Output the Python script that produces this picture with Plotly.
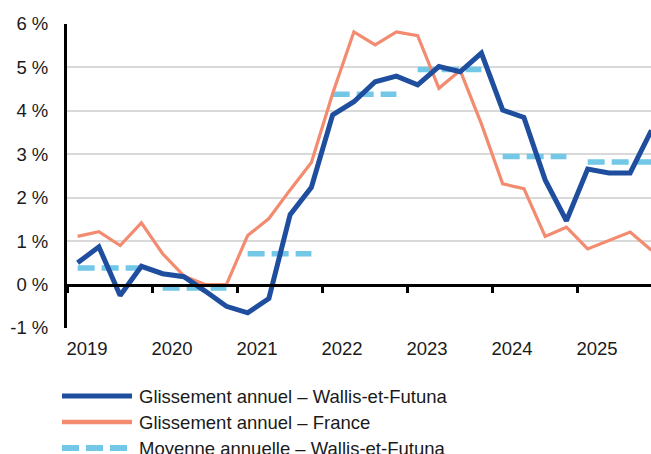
import plotly.graph_objects as go

years = ["2019", "2020", "2021", "2022", "2023", "2024", "2025"]
# quarterly year-on-year change (%), 2019 Q1 -> 2025 Q4
wallis = [0.50, 0.87, -0.25, 0.42, 0.25, 0.18, -0.15, -0.50, -0.65, -0.32, 1.61, 2.24,
          3.91, 4.21, 4.67, 4.80, 4.60, 5.02, 4.90, 5.33, 4.02, 3.85, 2.41, 1.47,
          2.66, 2.57, 2.57, 3.55]
france = [1.11, 1.22, 0.90, 1.42, 0.71, 0.20, 0.00, 0.00, 1.13, 1.52, 2.18, 2.81,
          4.40, 5.82, 5.52, 5.82, 5.73, 4.52, 4.93, 3.70, 2.32, 2.21, 1.11, 1.32,
          0.82, 1.02, 1.21, 0.79]
# annual average, Wallis-et-Futuna
annual_avg = [0.38, -0.08, 0.71, 4.38, 4.95, 2.95, 2.82]
yticks = [-1, 0, 1, 2, 3, 4, 5, 6]
ytick_labels = ["-1 %", "0 %", "1 %", "2 %", "3 %", "4 %", "5 %", "6 %"]
series_names = ["Glissement annuel – Wallis-et-Futuna",
                "Glissement annuel – France",
                "Moyenne annuelle – Wallis-et-Futuna"]

BLUE = "#1F4E9E"
SALMON = "#F28B70"
LIGHT = "#72C8E6"
FONT = "Liberation Sans, Arial, sans-serif"

xq = [i + 0.5 for i in range(len(wallis))]

ax, ay = [], []
for k, v in enumerate(annual_avg):
    ax += [4 * k + 0.5, 4 * k + 3.5, None]
    ay += [v, v, None]

fig = go.Figure()
fig.add_trace(go.Scatter(x=ax, y=ay, mode="lines", name=series_names[2],
                         line=dict(color=LIGHT, width=5.5, dash="17px,7px"),
                         showlegend=False, connectgaps=False))
fig.add_trace(go.Scatter(x=xq, y=france, mode="lines", name=series_names[1],
                         line=dict(color=SALMON, width=3.2), showlegend=False))
fig.add_trace(go.Scatter(x=xq, y=wallis, mode="lines", name=series_names[0],
                         line=dict(color=BLUE, width=5), showlegend=False))
# invisible trace to activate the zero-line axis
fig.add_trace(go.Scatter(x=[0], y=[0], xaxis="x2", mode="markers",
                         marker=dict(opacity=0), showlegend=False, hoverinfo="skip"))

W, H = 651, 454
L, R, T, B = 67, 0, 24, 126
pw, ph = W - L - R, H - T - B
xmax = 27.48

fig.update_layout(
    width=W, height=H,
    margin=dict(l=L, r=R, t=T, b=B),
    paper_bgcolor="white", plot_bgcolor="white",
    font=dict(family=FONT, size=18.5, color="#1a1a1a"),
    xaxis=dict(range=[0, xmax], showgrid=False, zeroline=False, showline=False,
               tickvals=[4 * k + 0.94 for k in range(len(years))], ticktext=years,
               ticks="", ticklabelstandoff=7, fixedrange=True),
    xaxis2=dict(range=[0, xmax], overlaying="x", anchor="free", position=1 / 7,
                showgrid=False, zeroline=False, showline=True, linecolor="black",
                linewidth=3, ticks="outside", ticklen=6, tickwidth=2.5, tickcolor="black",
                tickvals=[4 * k for k in range(len(years) + 1)], showticklabels=False),
    yaxis=dict(range=[-1, 6], tickvals=yticks, ticktext=ytick_labels,
               showgrid=True, gridcolor="#D9D9D9", gridwidth=2,
               zeroline=False, showline=True, linecolor="black", linewidth=3,
               ticks="", ticklabelstandoff=12, fixedrange=True),
)

# custom legend below the chart
def px_x(p):
    return (p - L) / pw

def px_y(p):
    return (H - B - p) / ph

rows = [396, 422, 448]
styles = [dict(color=BLUE, width=5), dict(color=SALMON, width=4.5),
          dict(color=LIGHT, width=6, dash="17px,7px")]
for name, yy, st in zip(series_names, rows, styles):
    fig.add_shape(type="line", xref="paper", yref="paper",
                  x0=px_x(62), x1=px_x(132), y0=px_y(yy), y1=px_y(yy), line=st)
    fig.add_annotation(text=name, xref="paper", yref="paper", x=px_x(137), y=px_y(yy),
                       xanchor="left", yanchor="middle", showarrow=False,
                       font=dict(family=FONT, size=18.5, color="#1a1a1a"))

fig.write_html("out.html", config={"displayModeBar": False},
               post_script="document.body.style.margin='0';document.body.style.overflow='hidden';")
